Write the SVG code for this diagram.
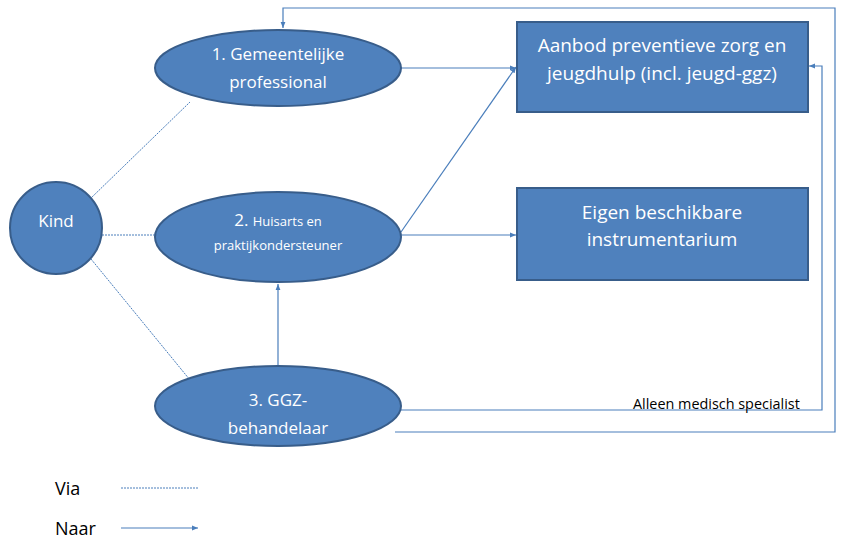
<svg xmlns="http://www.w3.org/2000/svg" width="842" height="542" viewBox="0 0 842 542">
<defs>
<marker id="arr" viewBox="0 0 10 10" refX="10" refY="5" markerWidth="6" markerHeight="6" orient="auto" markerUnits="userSpaceOnUse"><path d="M0,1 L10,5 L0,9 z" fill="#4A7EBB"/></marker>
<style>
.shape{fill:#4F81BD;stroke:#385D8A;stroke-width:2}
.t{fill:#fff;font-family:"Open Sans","Liberation Sans",sans-serif;font-size:17px;text-anchor:middle}
.b{font-size:19px}
.s{font-size:13px}
.lbl{fill:#000;font-family:"Open Sans","Liberation Sans",sans-serif;font-size:14.4px}
.leg{fill:#000;font-family:"Open Sans","Liberation Sans",sans-serif;font-size:18px}
.via{fill:none;stroke:#4A7EBB;stroke-width:1;stroke-dasharray:2,1}
.naar{fill:none;stroke:#4A7EBB;stroke-width:1.2;marker-end:url(#arr)}
</style>
</defs>
<rect width="842" height="542" fill="#fff"/>
<g id="connectors">
<line class="via" x1="90" y1="199" x2="190" y2="102"/>
<line class="via" x1="102" y1="235" x2="155" y2="235"/>
<line class="via" x1="91" y1="259" x2="190" y2="380"/>
<line class="naar" x1="401" y1="68" x2="516" y2="68"/>
<line class="naar" x1="401" y1="232" x2="516" y2="67"/>
<line class="naar" x1="401" y1="235" x2="516" y2="235"/>
<line class="naar" x1="278" y1="366" x2="278" y2="284"/>
<polyline class="naar" points="399,410 822,410 822,66 809,66"/>
<polyline class="naar" points="395,432 835,432 835,8 283,8 283,28"/>
<text class="lbl" x="633" y="409">Alleen medisch specialist</text>
</g>
<g id="kind"><circle class="shape" cx="56" cy="228" r="46"/><text class="t" x="56" y="227">Kind</text></g>
<g id="gemeentelijke"><ellipse class="shape" cx="278" cy="68" rx="123" ry="38"/><text class="t" x="278" y="60">1. Gemeentelijke</text><text class="t" x="278" y="88">professional</text></g>
<g id="huisarts"><ellipse class="shape" cx="278" cy="237" rx="123" ry="45"/><text class="t" x="278" y="226">2. <tspan class="s">Huisarts en</tspan></text><text class="t s" x="278" y="250">praktijkondersteuner</text></g>
<g id="ggz"><ellipse class="shape" cx="278" cy="406" rx="123" ry="40"/><text class="t" x="278" y="406">3. GGZ-</text><text class="t" x="278" y="434">behandelaar</text></g>
<g id="aanbod"><rect class="shape" x="517" y="22" width="291" height="90"/><text class="t b" x="662" y="52">Aanbod preventieve zorg en</text><text class="t b" x="662" y="80">jeugdhulp (incl. jeugd-ggz)</text></g>
<g id="eigen"><rect class="shape" x="517" y="188" width="291" height="92"/><text class="t b" x="662" y="219">Eigen beschikbare</text><text class="t b" x="662" y="246">instrumentarium</text></g>
<g id="legend">
<text class="leg" x="55" y="495">Via</text>
<line class="via" x1="121" y1="488" x2="198" y2="488"/>
<text class="leg" x="55" y="535">Naar</text>
<line class="naar" x1="121" y1="528" x2="198" y2="528"/>
</g>
</svg>
